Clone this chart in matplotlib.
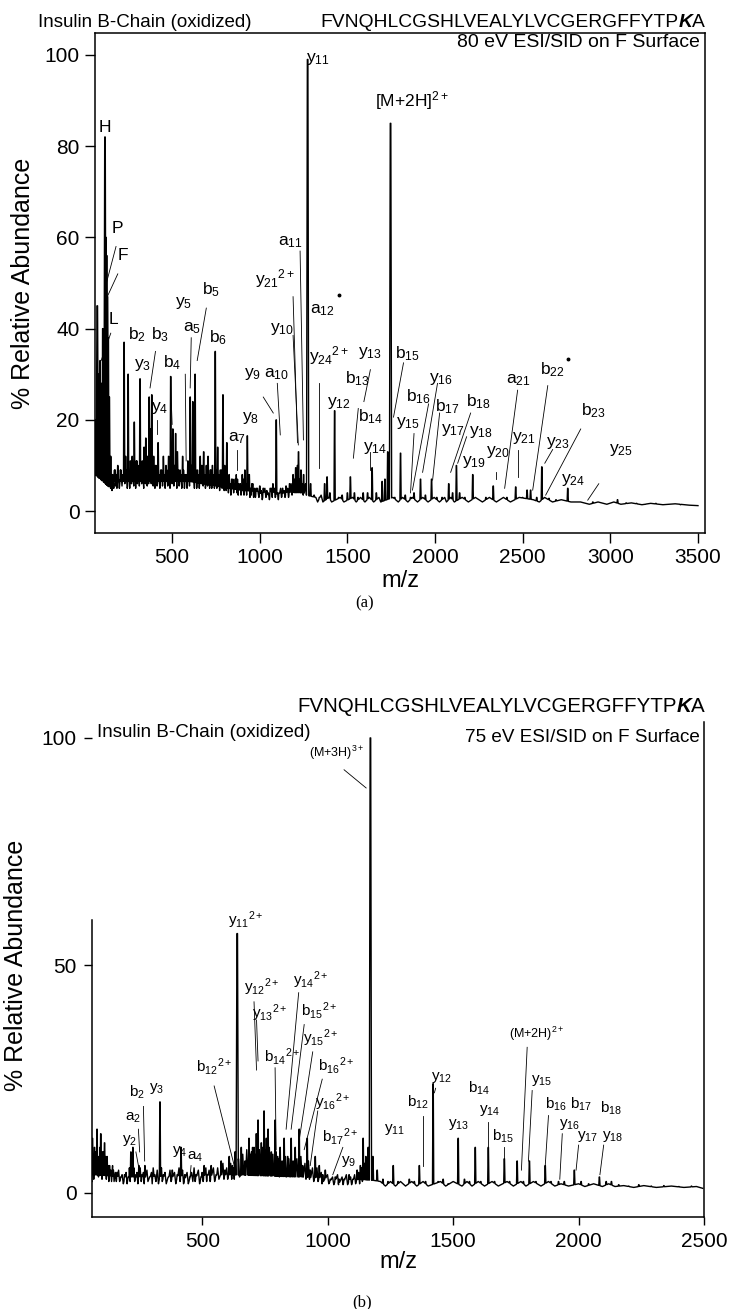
import numpy as np
import matplotlib
matplotlib.use("Agg")
import matplotlib.pyplot as plt
from matplotlib.text import Annotation

plt.rcParams['font.family'] = ['Liberation Sans', 'DejaVu Sans']
plt.rcParams['mathtext.fontset'] = 'custom'
plt.rcParams['mathtext.rm'] = 'Liberation Sans'
plt.rcParams['mathtext.it'] = 'Liberation Sans:italic'
plt.rcParams['mathtext.bf'] = 'Liberation Sans:bold'

# ---------------- data: panel (a) 80 eV ----------------
a_peak_mz = [65, 73, 80, 89, 97, 104, 117, 122, 127, 131, 136, 142, 150, 160, 175, 190, 205,
             226, 235, 249, 262, 272, 284, 296, 305, 317, 330, 340, 350, 360, 369, 377, 384, 395,
             405, 420, 435, 450, 465, 480, 492, 504, 513, 520, 530, 545, 560, 575, 590, 603, 612,
             618, 631, 645, 660, 670, 680, 695, 705, 718, 730, 746, 760, 775, 790, 800, 812, 825,
             840, 860, 880, 900, 915, 929, 940, 960, 980, 1000, 1020, 1040, 1060, 1075, 1094, 1110,
             1130, 1150, 1170, 1190, 1205, 1215, 1221, 1235, 1250, 1273, 1290, 1310, 1340, 1370,
             1384, 1400, 1427, 1450, 1470, 1500, 1517, 1540, 1560, 1590, 1615, 1641, 1665, 1698,
             1714, 1730, 1746, 1770, 1803, 1830, 1860, 1880, 1917, 1945, 1980, 2010, 2040, 2078,
             2100, 2122, 2140, 2170, 2215, 2250, 2290, 2332, 2370, 2410, 2460, 2500, 2525, 2545,
             2580, 2609, 2650, 2690, 2757, 2800, 2850, 2900, 2950, 3041, 3090, 3150, 3200, 3260,
             3330, 3400]
a_peak_int = [20, 45, 30, 33, 28, 40, 82, 60, 56, 47, 38, 25, 12, 8, 9, 10, 9,
              37, 12, 30, 11, 12, 19.5, 11, 10, 29, 11, 14, 16, 12, 25, 18, 25.5, 12,
              10, 15, 9, 12, 10, 12, 29.5, 18, 10, 17, 13, 9, 12, 8, 11, 25, 10,
              24, 30, 9, 12, 10, 13, 10, 12, 9, 10, 35, 14, 9, 25.5, 10, 15, 8,
              7, 7, 6, 8, 9, 16.5, 8, 6, 5, 5.5, 5, 4.5, 5, 6, 20, 4,
              5, 5.5, 6, 8, 9.5, 10, 13, 9, 8, 99, 6, 3.5, 3, 6,
              7.5, 4, 22, 3, 3.5, 4, 7.5, 4, 3, 4, 4, 9.5, 4, 6.5,
              7, 13, 85, 3, 12.7, 3.5, 3, 4, 7, 3.5, 7, 3, 3, 6,
              4, 10, 4, 3, 8, 2.5, 3, 5.5, 2.5, 3, 5.3, 3, 4.6, 4.6,
              3, 9.7, 2.8, 2.5, 5, 2, 1.8, 2, 1.8, 2.5, 1.8, 1.7, 1.5, 1.7,
              1.5, 1.4]
# low-level noise read along the trace of (a): alternating highs and lows
a_noise_mz = [145, 149, 153, 157, 162, 167, 171, 176, 180, 185, 194, 199, 208, 214, 219, 230,
              240, 244, 254, 258, 265, 268, 277, 281, 289, 292, 299, 302, 310, 313, 322, 326,
              335, 338, 344, 347, 355, 358, 363, 366, 373, 381, 389, 392, 399, 402, 410, 414,
              425, 430, 440, 445, 455, 460, 470, 475, 484, 488, 497, 500, 507, 510, 516, 524,
              527, 535, 540, 550, 555, 565, 570, 580, 585, 595, 599, 607, 623, 627, 636, 640,
              650, 655, 664, 667, 674, 677, 686, 690, 699, 702, 710, 714, 722, 726, 736, 741,
              751, 755, 766, 771, 781, 785, 794, 797, 805, 808, 817, 821, 831, 835, 847, 851,
              855, 866, 870, 873, 877, 889, 893, 906, 910, 921, 925, 934, 944, 947, 951, 955,
              965, 970, 975, 987, 995, 1009, 1014, 1029, 1035, 1049, 1055, 1067, 1071, 1084,
              1088, 1101, 1106, 1119, 1124, 1139, 1144, 1159, 1164, 1179, 1184, 1197, 1201,
              1229, 1233, 1244, 1248, 1261, 1266, 1320, 1330, 1350, 1360, 1395, 1410, 1460,
              1480, 1530, 1550, 1575, 1600, 1625, 1650, 1680, 1690, 1760, 1790, 1815, 1845,
              1870, 1900, 1930, 1960, 1995, 2025, 2055, 2065, 2090, 2110, 2155, 2190, 2230,
              2270, 2310, 2350, 2390, 2430, 2480, 2560, 2595, 2625, 2670, 2720, 2775, 2830,
              2880, 2930, 2980, 3020, 3060, 3120, 3180, 3230, 3300, 3370, 3450]
a_noise_int = [9, 5, 8, 4.5, 7, 5, 9, 5.5, 8, 5, 7, 5, 9, 5.5, 8, 6,
               9, 5, 8, 5, 10, 6, 9, 5.5, 8, 5, 11, 6, 9, 5.5, 10, 6,
               8, 5, 11, 6, 9, 5.5, 10, 6, 8, 6, 9, 5.5, 8, 5, 10, 5.5,
               8, 5, 9, 5.5, 8, 5, 9, 5.5, 8, 5, 10, 6, 9, 5.5, 7, 8,
               5, 9, 5.5, 8, 5, 9, 5, 8, 5, 9, 5.5, 7, 8, 5, 9, 5,
               8, 5, 10, 6, 9, 5.5, 8, 5, 9, 5.5, 8, 5, 9, 5, 8, 5,
               9, 5, 8, 4.5, 9, 5, 7, 4.5, 8, 4.5, 7, 4, 6, 3.5, 7, 4,
               6, 8, 4, 7, 3.5, 6, 3.5, 7, 3.5, 6, 3.5, 6, 3, 5, 3.5, 6,
               3, 5, 3, 5, 3, 4.5, 2.5, 5, 3, 4, 2.5, 5, 3, 5,
               3, 4, 2.5, 5, 3, 4.5, 3, 5, 3, 6, 3.5, 7, 4,
               7, 4, 6, 3.5, 6, 3.5, 3, 2, 3.5, 2, 3, 2, 3,
               2, 3, 2, 3, 2, 3, 2, 3, 2, 3, 2, 3, 2,
               3, 2, 3, 2, 3, 2, 3, 2, 3, 2, 3, 2, 3,
               2, 3, 2, 3, 2, 3, 2.5, 2, 3, 2, 2.5, 2, 2,
               1.5, 2, 1.5, 2, 1.5, 1.8, 1.4, 1.7, 1.4, 1.6, 1.3]
a_base_mz = [60, 150, 200, 600, 900, 1250, 1300, 2000, 2800, 3500]
a_base_int = [8, 5, 5, 5, 3, 2.5, 1.8, 1.5, 1.4, 1.2]

# ---------------- data: panel (b) 75 eV ----------------
b_peak_mz = [62, 70, 80, 88, 95, 102, 110, 120, 130, 145, 160, 175, 190, 205, 215, 223, 235, 247,
             260, 271, 290, 310, 331, 345, 365, 380, 400, 415, 430, 450, 475, 495, 507, 520, 535,
             555, 575, 590, 607, 620, 630, 639, 655, 670, 686, 696, 706, 715, 722, 735, 746, 755,
             762, 775, 790, 800, 810, 818, 826, 840, 854, 862, 870, 886, 900, 918, 930, 950, 966,
             980, 990, 1010, 1030, 1045, 1065, 1085, 1100, 1117, 1130, 1141, 1152, 1161, 1170,
             1180, 1197, 1220, 1240, 1261, 1280, 1300, 1325, 1345, 1365, 1390, 1420, 1440, 1460,
             1480, 1520, 1545, 1565, 1588, 1610, 1640, 1665, 1704, 1725, 1755, 1780, 1804, 1830,
             1867, 1890, 1920, 1943, 1983, 2010, 2040, 2083, 2110, 2131, 2160, 2200, 2240, 2290,
             2340, 2400, 2450]
b_peak_int = [12, 10, 14, 8, 13, 9, 11, 8, 6, 5, 4.5, 3.5, 4, 3.5, 9, 10, 4, 6,
              4, 6, 3.5, 4, 20, 4, 3.5, 5, 4, 10, 4, 3.5, 4, 3.5, 6, 4, 6,
              4, 7, 5, 8, 6, 9, 57, 10, 7, 12, 9, 10, 13, 16, 11, 18, 12,
              14, 9, 16, 8, 10, 7, 12, 8, 12, 7, 10, 14, 6, 12, 5, 8, 6,
              4, 5, 3, 3.5, 3, 3, 4, 3, 5, 6, 12, 8, 10, 100,
              8, 5, 3, 2.5, 6, 2.5, 2, 3, 2.5, 6, 2.5, 24, 2.5, 3,
              2, 12, 3, 2.5, 10, 2.5, 10, 2.5, 7.5, 2.5, 7, 2.5, 7, 2.5,
              6, 2.5, 2.5, 2.5, 5, 2.5, 2, 3.5, 2.5, 2.5, 1.8, 1.5, 1.8, 1.5,
              1.6, 1.4, 1.5]
b_noise_mz = [64, 67, 73, 77, 83, 86, 91, 93, 97, 100, 105, 108, 114, 117, 124, 127, 135, 138,
              142, 148, 153, 157, 166, 170, 180, 185, 196, 200, 209, 212, 227, 230, 239, 243,
              252, 256, 265, 268, 279, 283, 297, 300, 304, 315, 320, 325, 337, 340, 351, 356,
              371, 375, 389, 394, 407, 411, 421, 425, 439, 444, 457, 462, 467, 471, 484, 489,
              499, 503, 514, 517, 527, 531, 544, 549, 561, 566, 582, 586, 597, 601, 613, 617,
              624, 627, 644, 648, 661, 665, 677, 681, 691, 694, 700, 702, 709, 712, 727, 731,
              739, 742, 749, 752, 767, 770, 781, 784, 794, 797, 804, 807, 831, 834, 845, 849,
              877, 881, 893, 897, 909, 913, 923, 927, 939, 944, 957, 961, 974, 977, 999, 1004,
              1019, 1024, 1039, 1043, 1057, 1061, 1074, 1079, 1091, 1095, 1107, 1111, 1123,
              1127, 1134, 1138, 1146, 1149, 1155, 1158, 1210, 1230, 1250, 1270, 1290, 1310,
              1335, 1355, 1380, 1400, 1450, 1470, 1500, 1535, 1555, 1575, 1600, 1625, 1655,
              1680, 1715, 1740, 1770, 1790, 1820, 1850, 1880, 1905, 1930, 1960, 2000, 2025,
              2060, 2095, 2120, 2145, 2180, 2220, 2260, 2310, 2370, 2420, 2470]
b_noise_int = [7, 3, 9, 4, 8, 3.5, 10, 4, 7, 3, 9, 4, 8, 3, 6, 2.5, 5, 2.5,
               6, 2.5, 4.5, 2.5, 5, 2.5, 4, 2, 4.5, 2, 5.5, 2.5, 5.5, 2.5, 4.5, 2,
               5.5, 2.5, 4.5, 2, 5, 2.5, 4.5, 2, 5.5, 2.5, 5, 2, 5.5, 2.5, 4.5, 2,
               5, 2.5, 4.5, 2, 5.5, 2.5, 5, 2, 4.5, 2, 4.5, 2.5, 5.5, 2.5, 5, 2,
               4.5, 2.5, 5.5, 2.5, 5, 2.5, 5.5, 2.5, 5.5, 3, 6.5, 3, 5.5, 3, 6.5, 3,
               5.5, 3, 7.5, 3.5, 8.5, 4, 9.5, 4, 8.5, 4, 10, 5, 8.5, 4, 9.5, 4.5,
               10, 5, 9.5, 5, 10, 4.5, 8.5, 4, 9, 4, 7.5, 3.5, 8, 3.5, 7.5, 3.5,
               7.5, 3.5, 8, 3.5, 6.5, 3, 7, 3, 5.5, 2.5, 5.5, 2.5, 4.5, 2, 4, 2,
               3.5, 1.8, 4, 1.8, 3.5, 1.8, 4, 1.8, 3.5, 1.8, 4, 2, 4.5,
               2, 5.5, 2.5, 6.5, 3, 7.5, 3, 2.5, 1.5, 2.5, 1.5, 2.5, 1.5,
               2.5, 1.5, 2.5, 1.5, 2.5, 1.5, 2.5, 1.5, 2.5, 1.5, 2.5, 1.5, 2.5,
               1.5, 2.5, 1.5, 2.5, 1.5, 2.5, 1.5, 2.5, 1.5, 2, 1.5, 2, 1.4,
               2, 1.4, 2, 1.4, 1.6, 1.2, 1.6, 1.2, 1.5, 1.2, 1.4]
b_base_mz = [60, 200, 600, 1000, 1200, 2500]
b_base_int = [2.5, 2.0, 2.5, 1.8, 1.2, 1.0]

a_xticks = [500, 1000, 1500, 2000, 2500, 3000, 3500]
a_yticks = [0, 20, 40, 60, 80, 100]
b_xticks = [500, 1000, 1500, 2000, 2500]
b_yticks = [0, 50, 100]

sequence_main = "FVNQHLCGSHLVEALYLVCGERGFFYTP"
sequence_k = "K"
sequence_end = "A"

# labels: (text, label_mz, label_int, leader (x1, y1, x2, y2) or None)
a_labels = [
    ("H", 117, 84, None),
    ("P", 186, 62, (180, 58, 125, 50)),
    ("F", 220, 56, (190, 52, 130, 47)),
    ("L", 163, 42, (150, 39, 95, 33)),
    (r"b$_2$", 300, 38.6, None),
    (r"b$_3$", 431, 38.6, (405, 35, 374, 27)),
    (r"y$_3$", 334, 32, None),
    (r"y$_4$", 431, 22.6, (415, 20, 415, 17)),
    (r"b$_4$", 500, 32.5, (490, 29.5, 500, 19)),
    (r"y$_5$", 563, 45.6, (575, 30, 580, 11)),
    (r"b$_5$", 723, 48.5, (695, 44.5, 643, 33)),
    (r"a$_5$", 615, 40, (609, 38, 603, 27)),
    (r"b$_6$", 760, 38, None),
    (r"a$_7$", 871, 16, (871, 13.5, 871, 9)),
    (r"y$_8$", 946, 20.4, None),
    (r"y$_9$", 957, 30, (1020, 25, 1077, 21.5)),
    (r"a$_{10}$", 1094, 30, (1100, 28, 1117, 16.7)),
    (r"y$_{10}$", 1129, 40, (1190, 38.5, 1220, 14.5)),
    (r"y$_{21}{}^{2+}$", 1090, 51, (1190, 47, 1215, 15)),
    (r"a$_{11}$", 1174, 59, (1230, 57, 1249, 15.6)),
    (r"y$_{11}$", 1334, 99, None),
    (r"a$_{12}$", 1357, 44, (1340, 28, 1340, 9.4)),
    (r"y$_{24}{}^{2+}$", 1398, 34, None),
    (r"y$_{12}$", 1449, 23.7, None),
    (r"b$_{13}$", 1557, 29, (1562, 22.5, 1534, 11.6)),
    (r"[M+2H]$^{2+}$", 1870, 90, None),
    (r"y$_{13}$", 1631, 34.6, (1631, 31, 1594, 24)),
    (r"b$_{14}$", 1631, 20.6, None),
    (r"y$_{14}$", 1660, 13.8, (1631, 13, 1631, 9)),
    (r"b$_{15}$", 1843, 34.6, (1820, 32.5, 1763, 20.6)),
    (r"y$_{15}$", 1843, 19.3, (1880, 17, 1860, 4)),
    (r"y$_{16}$", 2031, 29, (2014, 28, 1929, 8.5)),
    (r"b$_{16}$", 1906, 25, (1963, 23.5, 1871, 4.6)),
    (r"b$_{17}$", 2071, 23, (2026, 21.5, 1986, 6.8)),
    (r"b$_{18}$", 2249, 24, (2203, 21.5, 2089, 8.5)),
    (r"y$_{17}$", 2100, 17.8, (2180, 16.3, 2129, 10.5)),
    (r"y$_{18}$", 2260, 17.3, None),
    (r"y$_{19}$", 2220, 10.8, None),
    (r"y$_{20}$", 2357, 13, (2346, 8.5, 2346, 7)),
    (r"a$_{21}$", 2477, 28.7, (2471, 26.5, 2397, 5)),
    (r"y$_{21}$", 2506, 16, (2471, 13.5, 2471, 7.5)),
    (r"b$_{22}$", 2671, 31, (2643, 27.5, 2557, 4.6)),
    (r"y$_{23}$", 2700, 15, (2671, 13.5, 2626, 10.5)),
    (r"b$_{23}$", 2906, 22, (2831, 18, 2631, 3.5)),
    (r"y$_{24}$", 2786, 6.8, None),
    (r"y$_{25}$", 3060, 13.4, (2934, 6, 2871, 2.4)),
]
a_stars = [(1450, 47.4), (2757, 33.3)]

b_labels = [
    (r"y$_2$", 210, 11.5, (235, 9, 245, 6)),
    (r"a$_2$", 222, 16.5, (245, 14, 250, 9)),
    (r"b$_2$", 240, 22, (265, 19, 270, 7)),
    (r"y$_3$", 318, 23, None),
    (r"y$_4$", 410, 9, None),
    (r"a$_4$", 470, 8, (455, 6, 450, 3)),
    (r"b$_{12}{}^{2+}$", 547, 27.7, (547, 23.5, 627, 6)),
    (r"y$_{11}{}^{2+}$", 674, 60, None),
    (r"y$_{12}{}^{2+}$", 735, 45.3, (706, 42, 716, 27)),
    (r"y$_{13}{}^{2+}$", 770, 39.6, (716, 38, 722, 29)),
    (r"y$_{14}{}^{2+}$", 934, 46.8, (884, 44, 834, 14)),
    (r"b$_{15}{}^{2+}$", 966, 40, (906, 37, 854, 14)),
    (r"b$_{14}{}^{2+}$", 820, 30, (790, 27.5, 794, 9.5)),
    (r"y$_{15}{}^{2+}$", 973, 34, (940, 31, 886, 11.6)),
    (r"b$_{16}{}^{2+}$", 1033, 28, (978, 25, 906, 9.5)),
    (r"y$_{16}{}^{2+}$", 1020, 20, (960, 18, 930, 6)),
    (r"b$_{17}{}^{2+}$", 1050, 12.5, (1060, 10, 1020, 4)),
    (r"y$_9$", 1085, 7, None),
    (r"y$_{11}$", 1265, 14, None),
    (r"b$_{12}$", 1360, 20, (1380, 17, 1380, 6)),
    (r"y$_{12}$", 1452, 25.3, (1430, 23, 1425, 22)),
    (r"b$_{14}$", 1604, 23, None),
    (r"y$_{13}$", 1520, 15, None),
    (r"y$_{14}$", 1645, 18, (1640, 15.5, 1640, 10)),
    (r"b$_{15}$", 1700, 12.5, (1704, 10, 1704, 7.5)),
    (r"(M+2H)$^{2+}$", 1832, 35, (1795, 32, 1772, 5)),
    (r"y$_{15}$", 1852, 24.8, (1815, 22.5, 1800, 7)),
    (r"b$_{16}$", 1910, 19.5, (1880, 17, 1867, 6)),
    (r"b$_{17}$", 2010, 19.5, None),
    (r"b$_{18}$", 2130, 18.5, None),
    (r"y$_{16}$", 1965, 15, (1935, 13, 1925, 3)),
    (r"y$_{17}$", 2035, 12.5, (2000, 10.5, 1990, 5)),
    (r"y$_{18}$", 2135, 12.5, (2100, 10.5, 2085, 4)),
    (r"(M+3H)$^{3+}$", 1034, 96.7, (1065, 93, 1153, 89)),
]


def build_trace(pk_mz, pk_int, nz_mz, nz_int, base_mz, base_int, hw, xmin, xmax):
    nz_order = np.argsort(nz_mz)
    nzx = np.asarray(nz_mz, float)[nz_order]
    nzy = np.asarray(nz_int, float)[nz_order]

    def foot(x):
        # peaks sit on the noisy trace where noise was read, else on the baseline
        if nzx[0] <= x <= nzx[-1]:
            return min(np.interp(x, nzx, nzy), np.interp(x, base_mz, base_int) + 1.5)
        return np.interp(x, base_mz, base_int)

    groups = []
    for m, h in zip(pk_mz, pk_int):
        w = hw * (1.8 if h > 40 else 1.0)
        groups.append((m, [m - w, m - w * 0.25, m + w * 0.25, m + w],
                       [foot(m - w), h, h, foot(m + w)]))
    for m, v in zip(nz_mz, nz_int):
        groups.append((m, [m], [v]))
    groups.sort(key=lambda g: g[0])
    xs = [xmin]
    ys = [np.interp(xmin, base_mz, base_int)]
    for _, gx, gy in groups:
        xs += gx
        ys += gy
    xs.append(xmax)
    ys.append(np.interp(xmax, base_mz, base_int))
    return np.array(xs), np.array(ys)


W, H = 729, 1309
fig = plt.figure(figsize=(W / 100, H / 100), dpi=100)


def px_axes(l, t, r, b):
    return fig.add_axes([l / W, 1 - b / H, (r - l) / W, (b - t) / H])


axA = px_axes(95, 33, 705, 533)
axB = px_axes(92, 722, 704, 1217)

# ---------- panel a ----------
xa, ya = build_trace(a_peak_mz, a_peak_int, a_noise_mz, a_noise_int,
                     a_base_mz, a_base_int, 3.5, 60, 3500)
axA.plot(xa, ya, color='black', lw=1.0)
axA.set_xlim(60, 3540)
axA.set_ylim(-4.8, 104.8)
axA.set_xticks(a_xticks)
axA.set_yticks(a_yticks)
axA.tick_params(direction='out', length=7, width=1, labelsize=15, pad=4)
axA.set_xlabel("m/z", fontsize=17, labelpad=2)
for sp in axA.spines.values():
    sp.set_linewidth(1.1)
for txt, lx, ly, ld in a_labels:
    axA.text(lx, ly, txt, fontsize=12.5, ha='center', va='center')
    if ld is not None:
        axA.plot([ld[0], ld[2]], [ld[1], ld[3]], color='black', lw=0.6)
for sx, sy in a_stars:
    axA.plot(sx, sy, 'o', color='black', ms=1.8)
fig.text(700 / W, 1 - 47 / H, "80 eV ESI/SID on F Surface", ha='right', va='baseline', fontsize=14)
fig.text(23 / W, 1 - 283 / H, "% Relative Abundance", rotation=90, ha='center', va='center',
         fontsize=18)

# ---------- panel b ----------
xb, yb = build_trace(b_peak_mz, b_peak_int, b_noise_mz, b_noise_int,
                     b_base_mz, b_base_int, 2.5, 60, 2495)
axB.plot(xb, yb, color='black', lw=1.0)
axB.set_xlim(60, 2500)
axB.set_ylim(-5.3, 103.5)
axB.set_xticks(b_xticks)
axB.set_yticks(b_yticks)
axB.tick_params(direction='out', length=6, width=1, labelsize=15, pad=5)
axB.set_xlabel("m/z", fontsize=17, labelpad=0)
axB.spines['top'].set_visible(False)
axB.spines['left'].set_bounds(-5.3, 60)
for sp in axB.spines.values():
    sp.set_linewidth(1.1)
for txt, lx, ly, ld in b_labels:
    fs = 9 if txt.startswith('(M') else 11
    axB.text(lx, ly, txt, fontsize=fs, ha='center', va='center')
    if ld is not None:
        axB.plot([ld[0], ld[2]], [ld[1], ld[3]], color='black', lw=0.6)
fig.text(700 / W, 1 - 742 / H, "75 eV ESI/SID on F Surface", ha='right', va='baseline', fontsize=13.6)
fig.text(97 / W, 1 - 737 / H, "Insulin B-Chain (oxidized)", ha='left', va='baseline', fontsize=13.5)
fig.text(16 / W, 1 - 965 / H, "% Relative Abundance", rotation=90, ha='center', va='center',
         fontsize=18)


# ---------- titles / sequences ----------
def sequence(x_right_px, y_px, fs):
    tA = fig.text(x_right_px / W, 1 - y_px / H, sequence_end, ha='right', va='baseline', fontsize=fs)
    aK = fig.add_artist(Annotation(sequence_k, xy=(0, 0), xycoords=tA, ha='right', va='bottom',
                                   fontsize=fs, fontweight='bold', fontstyle='italic'))
    fig.add_artist(Annotation(sequence_main, xy=(0, 0), xycoords=aK, ha='right', va='bottom',
                              fontsize=fs))


fig.text(38 / W, 1 - 27 / H, "Insulin B-Chain (oxidized)", ha='left', va='baseline', fontsize=13.5)
sequence(705, 27, 13.9)
sequence(705, 712, 14.8)

fig.text(365 / W, 1 - 607 / H, "(a)", ha='center', va='baseline', fontsize=12,
         family=['Liberation Serif'])
fig.text(362 / W, 1 - 1306 / H, "(b)", ha='center', va='baseline', fontsize=12,
         family=['Liberation Serif'])

fig.savefig("out.png", dpi=100)
